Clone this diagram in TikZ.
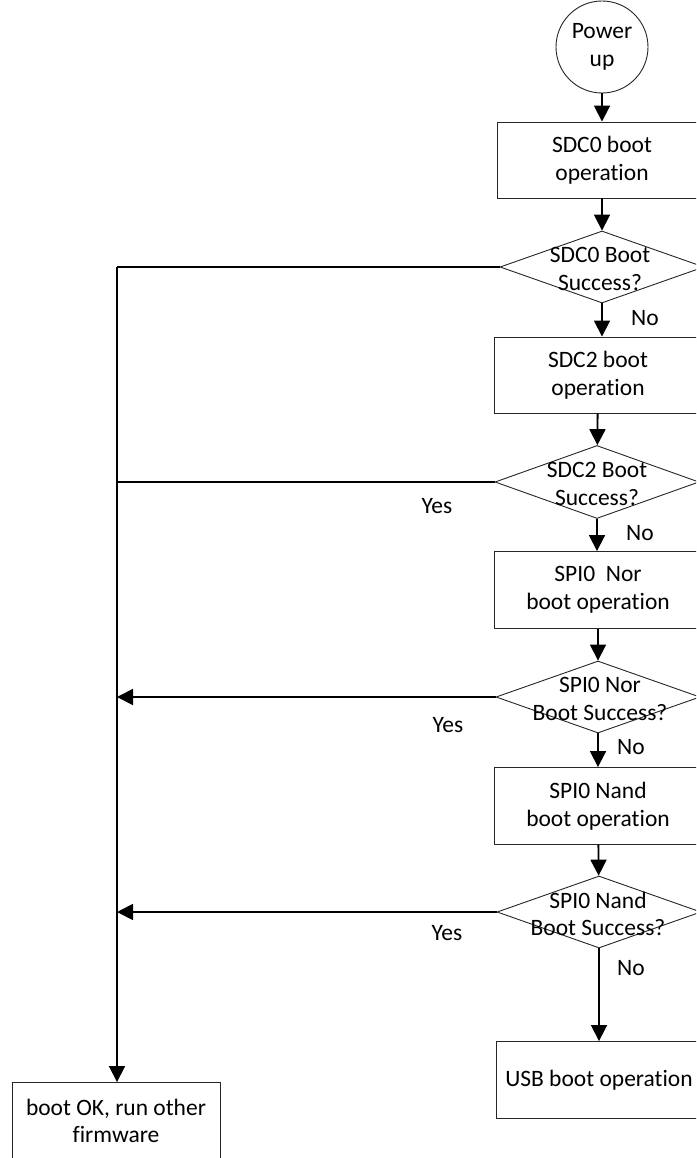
\documentclass[tikz,border=0pt]{standalone}
\usepackage{fontspec}
\setmainfont[Ligatures=NoCommon]{Carlito}
\usetikzlibrary{shapes.geometric,arrows.meta}
\begin{document}
\begin{tikzpicture}[x=1pt,y=-1pt,
  every node/.style={font=\fontsize{23.5}{27.5}\selectfont},
  opbox/.style={draw=black!85,line width=0.9pt,rectangle,inner sep=0pt,align=center},
  decide/.style={draw=black!85,line width=0.9pt,diamond,inner sep=0pt,minimum width=204pt,minimum height=72pt},
  dtext/.style={align=center,inner sep=0pt},
  conn/.style={line width=1.8pt,black},
  arr/.style={conn,-{Triangle[length=16pt,width=16pt]}},
  lbl/.style={inner sep=0pt}]
\clip (0,0) rectangle (696,1158);
\fill[white] (0,0) rectangle (696,1158);

\node[draw=black!85,line width=0.9pt,circle,minimum size=92pt,inner sep=0pt,align=center] (pu) at (602,47) {Power\\up};
\node[opbox,minimum width=210pt,minimum height=76pt] (b1) at (602,160) {SDC0 boot\\operation};
\node[decide] (d1) at (602,267) {};
\node[dtext] (d1t) at (600,269) {SDC0 Boot\\Success?};
\node[opbox,minimum width=208pt,minimum height=76pt] (b2) at (598,375) {SDC2 boot\\operation};
\node[decide,minimum height=73pt] (d2) at (597,482) {};
\node[dtext] (d2t) at (597,484) {SDC2 Boot\\Success?};
\node[opbox,minimum width=208pt,minimum height=77pt] (b3) at (598,590) {SPI0\ \ Nor\\boot operation};
\node[decide] (d3) at (598,697) {};
\node[dtext] (d3t) at (600,699) {SPI0 Nor\\Boot Success?};
\node[opbox,minimum width=208pt,minimum height=77pt] (b4) at (598,806) {SPI0 Nand\\boot operation};
\node[decide] (d4) at (599,912) {};
\node[dtext] (d4t) at (598,914) {SPI0 Nand\\Boot Success?};
\node[opbox,minimum width=206pt,minimum height=77pt] (usb) at (599,1080) {USB boot operation};
\node[opbox,minimum width=208pt,minimum height=77pt] (ok) at (116,1121) {boot OK, run other\\firmware};

\coordinate (j1) at (117,267);
\coordinate (j2) at (117,482);
\coordinate (j3) at (117,697);
\coordinate (j4) at (117,912);

\draw[arr] (pu) -- (b1);
\draw[arr] (b1) -- (d1);
\draw[arr] (d1.south) -- (b2.north -| d1.south);
\draw[arr] (b2) -- (d2);
\draw[arr] (d2.south) -- (b3.north -| d2.south);
\draw[arr] (b3) -- (d3);
\draw[arr] (d3.south) -- (b4.north -| d3.south);
\draw[arr] (b4) -- (d4);
\draw[arr] (d4.south) -- (usb.north -| d4.south);

\draw[conn] (d1.west) -- (j1);
\draw[arr] (j1) -- (ok.north -| j1);
\draw[conn] (d2.west) -- (j2);
\draw[arr] (d3.west) -- (j3);
\draw[arr] (d4.west) -- (j4);

\node[lbl] (n1) at (645,318) {No};
\node[lbl] (n2) at (640,533) {No};
\node[lbl] (n3) at (631,747) {No};
\node[lbl] (n4) at (631,968) {No};
\node[lbl] (y2) at (437,506) {Yes};
\node[lbl] (y3) at (448,725) {Yes};
\node[lbl] (y4) at (447,933) {Yes};
\end{tikzpicture}
\end{document}
